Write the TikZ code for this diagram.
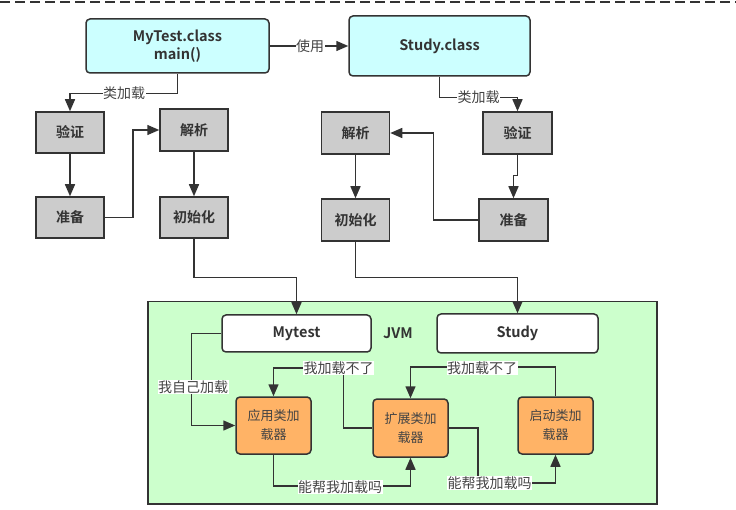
\documentclass[tikz,border=0pt]{standalone}
\usepackage{fontspec}
\setmainfont{Noto Sans CJK SC}[BoldFont={Noto Sans CJK SC Bold}]
\usetikzlibrary{arrows.meta}
\definecolor{ln}{HTML}{333333}
\definecolor{cyanf}{HTML}{CCFFFF}
\definecolor{grayf}{HTML}{CCCCCC}
\definecolor{orangef}{HTML}{FFB366}
\definecolor{greenf}{HTML}{CCFFCC}
\definecolor{txt}{HTML}{333333}
\definecolor{lbltxt}{HTML}{444444}
\tikzset{
  classbox/.style={draw=ln, line width=1.5pt, fill=cyanf, rounded corners=4pt, inner sep=0pt, align=center,
    font=\fontsize{14.5}{18}\selectfont\bfseries, text=txt},
  stepbox/.style={draw=ln, line width=1.5pt, fill=grayf, inner sep=0pt, minimum width=68pt, minimum height=41pt,
    font=\fontsize{14}{17}\selectfont\bfseries, text=txt},
  whitebox/.style={draw=ln, line width=1.5pt, fill=white, rounded corners=4pt, inner sep=0pt,
    font=\fontsize{14.5}{17}\selectfont\bfseries, text=txt},
  loaderbox/.style={draw=ln, line width=1.5pt, fill=orangef, rounded corners=4pt, inner sep=0pt, align=center,
    minimum width=75pt, minimum height=57pt, font=\fontsize{13}{19}\selectfont, text=lbltxt},
  arr/.style={draw=ln, line width=1.5pt, -{Triangle[length=12pt,width=10pt]}},
  lbl/.style={fill=white, inner sep=0.5pt, font=\fontsize{14}{15}\selectfont, text=lbltxt},
}
\begin{document}
\begin{tikzpicture}[x=1pt,y=-1pt]
\useasboundingbox (0,0) rectangle (736,510);
% top dashed border
\draw[ln, line width=1.5pt, dash pattern=on 10pt off 5pt] (0,2) -- (736,2);

% JVM container
\node (jvm) [draw=ln, line width=1.5pt, fill=greenf, minimum width=509pt, minimum height=202pt, inner sep=0pt, anchor=north west] at (147,301) {};
\node (jvmlbl) [font=\fontsize{14.5}{17}\selectfont\bfseries, text=txt] at (398,333) {JVM};

% class boxes
\node (mytest) [classbox, minimum width=183pt, minimum height=54pt] at (177.5,46) {MyTest.class\\main()};
\node (study) [classbox, minimum width=181pt, minimum height=60pt] at (439.5,46) {Study.class};

% left steps
\node (yz1) [stepbox] at (70,132.5) {验证};
\node (zb1) [stepbox] at (70,217.5) {准备};
\node (jx1) [stepbox, minimum height=42pt] at (194,130) {解析};
\node (csh1) [stepbox] at (194,217.5) {初始化};
% right steps
\node (jx2) [stepbox, minimum height=42pt] at (355.5,133) {解析};
\node (csh2) [stepbox, minimum height=42pt] at (355.5,220) {初始化};
\node (yz2) [stepbox, minimum width=69pt, minimum height=42pt] at (517.5,133) {验证};
\node (zb2) [stepbox, minimum width=69pt, minimum height=42pt] at (513.5,220) {准备};

% JVM inner boxes
\node (mt) [whitebox, minimum width=149pt, minimum height=37pt] at (296.5,333.5) {Mytest};
\node (st) [whitebox, minimum width=161pt, minimum height=39pt] at (517.5,333.5) {Study};
\node (app) [loaderbox] at (273.5,425.5) {应用类加\\载器};
\node (ext) [loaderbox, minimum height=58pt] at (410.5,428) {扩展类加\\载器};
\node (boot) [loaderbox] at (555.5,425.5) {启动类加\\载器};

% connectors top
\draw[arr] (mytest.east) -- (study.west);
\draw[arr] (mytest.south) -- ++(0,20) -| (yz1.north);
\draw[arr] (study.south) -- ++(0,21) -| (yz2.north);
\draw[arr] (yz1.south) -- (zb1.north);
\draw[arr] (zb1.east) -- ++(28,0) |- (jx1.west);
\draw[arr] (jx1.south) -- (csh1.north);
\draw[arr] (yz2.south) -- ++(0,21) -| (zb2.north);
\draw[arr] (zb2.west) -- ++(-45,0) |- (jx2.east);
\draw[arr] (jx2.south) -- (csh2.north);
\draw[arr] (csh1.south) -- ++(0,39) -| (mt.north);
\draw[arr] (csh2.south) -- ++(0,36) -| (st.north);

% JVM connectors
\draw[arr] (mt.west) -- ++(-30,0) |- (app.west);
\draw[arr] (ext.west) -- ++(-29,0) -- ++(0,-60) -| (app.north);
\draw[arr] (app.south) -- ++(0,31) -| (ext.south);
\draw[arr] (boot.north) -- ++(0,-29) -| (ext.north);
\draw[arr] (ext.east) -- ++(29,0) -- ++(0,55) -| (boot.south);

% labels
\node (l1) [lbl] at (310,46) {使用};
\node (l2) [lbl] at (124,93) {类加载};
\node (l3) [lbl] at (478.5,97) {类加载};
\node (l4) [lbl] at (193,387) {我自己加载};
\node (l5) [lbl] at (338.5,368) {我加载不了};
\node (l6) [lbl] at (482,368) {我加载不了};
\node (l7) [lbl] at (340,487) {能帮我加载吗};
\node (l8) [lbl] at (489.5,483) {能帮我加载吗};
\end{tikzpicture}
\end{document}
